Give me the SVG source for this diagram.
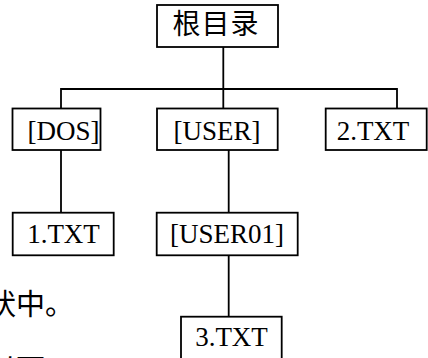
<svg xmlns="http://www.w3.org/2000/svg" width="428" height="358" viewBox="0 0 428 358">
<style>
.box{fill:#fff;stroke:#000;stroke-width:1.8}
.lbl{font-family:"Liberation Serif","Noto Serif CJK SC","Noto Sans CJK SC",serif;font-size:27px;fill:#000;text-anchor:middle}
.cjk{font-family:"Noto Sans CJK SC",sans-serif;fill:#000}
.conn{stroke:#000;stroke-width:1.8;fill:none}
</style>
<rect width="428" height="358" fill="#fff"/>
<g id="connectors">
<path class="conn" d="M223.3,47V108.5M61,89H397M61,88.1V108.5M397,88.1V108.5M61,150V212.7M228.7,150V212.7M228.7,255.3V316.7"/>
</g>
<g id="root">
<rect class="box" x="157" y="5" width="121" height="42"/>
<text class="cjk" x="216" y="34" font-size="28" text-anchor="middle" letter-spacing="1">根目录</text>
</g>
<g id="dos">
<rect class="box" x="12.5" y="108.5" width="88" height="41.5"/>
<text class="lbl" x="63.5" y="140">[DOS]</text>
</g>
<g id="user">
<rect class="box" x="157" y="108.5" width="120.7" height="41.5"/>
<text class="lbl" x="217" y="140">[USER]</text>
</g>
<g id="txt2">
<rect class="box" x="325.7" y="108.5" width="101" height="41.5"/>
<text class="lbl" x="373" y="140">2.TXT</text>
</g>
<g id="txt1">
<rect class="box" x="12.7" y="212.7" width="101" height="42.6"/>
<text class="lbl" x="63.5" y="243">1.TXT</text>
</g>
<g id="user01">
<rect class="box" x="156.7" y="212.7" width="141" height="42.6"/>
<text class="lbl" x="227" y="243">[USER01]</text>
</g>
<g id="txt3">
<rect class="box" x="181" y="316.7" width="100.7" height="50"/>
<text class="lbl" x="231.5" y="346">3.TXT</text>
</g>
<text class="cjk" x="-13" y="315" font-size="29">状中。</text>
<text class="cjk" x="-13" y="380" font-size="29">以下</text>
</svg>
